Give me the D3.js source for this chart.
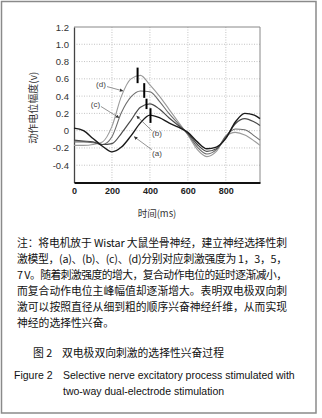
<!DOCTYPE html>
<html><head><meta charset="utf-8">
<script src="https://cdn.jsdelivr.net/npm/d3@7"></script>
<style>
body{margin:0;background:#fff;}
svg{display:block;}
</style></head>
<body>
<script>
// ---- data ----
const times = [0, 50, 100, 150, 200, 250, 300, 350, 400, 450, 500, 550, 600, 650, 700, 750, 800, 850, 900, 950, 980];
const seriesNames = ["(a)", "(b)", "(c)", "(d)"];
const seriesA = [0.03, 0.00, -0.09, -0.18, -0.245, -0.19, -0.06, 0.09, 0.18, 0.15, 0.09, 0.04, -0.02, -0.13, -0.21, -0.19, -0.09, 0.10, 0.20, 0.18, 0.14];
const seriesB = [-0.11, -0.12, -0.13, -0.16, -0.15, -0.03, 0.12, 0.27, 0.31, 0.25, 0.15, 0.06, -0.03, -0.16, -0.24, -0.21, -0.08, 0.08, 0.14, 0.10, 0.06];
const seriesC = [-0.13, -0.13, -0.14, -0.16, -0.07, 0.21, 0.39, 0.46, 0.45, 0.34, 0.20, 0.08, -0.04, -0.19, -0.27, -0.22, -0.06, 0.02, 0.01, -0.06, -0.11];
const seriesD = [-0.17, -0.17, -0.16, -0.13, 0.05, 0.40, 0.60, 0.64, 0.53, 0.40, 0.25, 0.10, -0.05, -0.22, -0.30, -0.24, -0.07, -0.02, -0.05, -0.12, -0.17];
const peakT = [403, 382, 370, 335];
const peakLo = [0.09, 0.25, 0.38, 0.55];
const peakHi = [0.26, 0.37, 0.55, 0.73];
const labelT = [437, 437, 113, 142];
const labelV = [-0.26, -0.035, 0.31, 0.54];
const arrowFromT = [410, 410, 142, 174];
const arrowFromV = [-0.22, 0.0, 0.28, 0.51];
const arrowToT = [317, 330, 237, 258];
const arrowToV = [-0.07, 0.17, 0.15, 0.46];
const yTicks = [1.2, 1.0, 0.8, 0.6, 0.4, 0.2, 0, -0.2, -0.4];
const yTickLabels = ["1.2", "1.0", "0.8", "0.6", "0.4", "0.2", "0", "-0.2", "-0.4"];
const xTicks = [0, 200, 400, 600, 800];
const xTitle = "时间(ms)";
const yTitle = "动作电位幅度(v)";
const noteLines = [
  "注：将电机放于 Wistar 大鼠坐骨神经，建立神经选择性刺",
  "激模型，(a)、(b)、(c)、(d)分别对应刺激强度为 1，3，5，",
  "7 V。随着刺激强度的增大，复合动作电位的延时逐渐减小，",
  "而复合动作电位主峰幅值却逐渐增大。表明双电极双向刺",
  "激可以按照直径从细到粗的顺序兴奋神经纤维，从而实现",
  "神经的选择性兴奋。"
];
const captionCN = ["图 2", "双电极双向刺激的选择性兴奋过程"];
const captionEN = ["Figure 2", "Selective nerve excitatory process stimulated with", "two-way dual-electrode stimulation"];

// ---- drawing ----
const W = 322, H = 418;
const svg = d3.select("body").append("svg").attr("width", W).attr("height", H);
const allSeries = [seriesA, seriesB, seriesC, seriesD];
const colors = ["#1a1a1a", "#4a4a4a", "#6e6e6e", "#9a9a9a"];
const widths = [1.4, 1.2, 1.1, 1.1];

svg.append("rect").attr("x", 1.5).attr("y", 1.5).attr("width", 314.5).attr("height", 411.5)
  .attr("fill", "none").attr("stroke", "#8a8a8a").attr("stroke-width", 1.5);

const x = d3.scaleLinear().domain([0, 980]).range([74, 260]);
const y = d3.scaleLinear().domain([-0.6, 1.2]).range([182.5, 27]);

// grid
const g = svg.append("g");
g.selectAll("line.hg").data(yTicks.filter(v => v < 1.2)).join("line")
  .attr("x1", x(0)).attr("x2", x(980)).attr("y1", d => y(d)).attr("y2", d => y(d))
  .attr("stroke", "#b5b5b5").attr("stroke-width", 0.8).attr("stroke-dasharray", "1,1.5");
g.append("line").attr("x1", x(0)).attr("x2", x(980)).attr("y1", y(-0.4)-0).attr("y2", y(-0.4))
  .attr("stroke","none");
g.selectAll("line.vg").data(xTicks.filter(t => t > 0)).join("line")
  .attr("x1", d => x(d)).attr("x2", d => x(d)).attr("y1", y(1.2)).attr("y2", y(-0.6))
  .attr("stroke", "#b5b5b5").attr("stroke-width", 0.8).attr("stroke-dasharray", "1,1.5");

// frame
svg.append("line").attr("x1", x(0)).attr("x2", x(980)).attr("y1", y(1.2)).attr("y2", y(1.2)).attr("stroke", "#888").attr("stroke-width", 1);
svg.append("line").attr("x1", x(980)).attr("x2", x(980)).attr("y1", y(1.2)).attr("y2", y(-0.6)).attr("stroke", "#888").attr("stroke-width", 1);

// axes
const yAxis = d3.axisLeft(y).tickValues(yTicks).tickSize(0).tickPadding(5)
  .tickFormat((d, i) => yTickLabels[i]);
const ya = svg.append("g").attr("transform", `translate(${x(0)},0)`).call(yAxis);
ya.select(".domain").attr("stroke", "#444").attr("stroke-width", 1.3);
ya.selectAll("text").attr("font-family", "Liberation Sans, Arial, sans-serif").attr("font-size", 9.5).attr("fill", "#333");

const xAxis = d3.axisBottom(x).tickValues(xTicks).tickSize(0).tickPadding(5);
const xa = svg.append("g").attr("transform", `translate(0,${y(-0.6)})`).call(xAxis);
xa.select(".domain").attr("stroke", "#111").attr("stroke-width", 2);
xa.selectAll("text").attr("font-family", "Liberation Sans, Arial, sans-serif").attr("font-size", 9).attr("font-weight", "bold").attr("fill", "#222");

// lines
const line = d3.line().x((d, i) => x(times[i])).y(d => y(d)).curve(d3.curveMonotoneX);
svg.selectAll("path.series").data(allSeries.slice().reverse()).join("path")
  .attr("class", "series")
  .attr("d", d => line(d))
  .attr("fill", "none")
  .attr("stroke", (d, i) => colors[3 - i])
  .attr("stroke-width", (d, i) => widths[3 - i]);

// peak bars
svg.selectAll("line.peak").data(peakT).join("line")
  .attr("x1", d => x(d)).attr("x2", d => x(d))
  .attr("y1", (d, i) => y(peakLo[i])).attr("y2", (d, i) => y(peakHi[i]))
  .attr("stroke", "#000").attr("stroke-width", 2);

// arrows + labels
svg.append("defs").append("marker").attr("id", "ah").attr("viewBox", "0 0 6 6")
  .attr("refX", 5.5).attr("refY", 3).attr("markerWidth", 5).attr("markerHeight", 5)
  .attr("orient", "auto")
  .append("path").attr("d", "M0,0 L6,3 L0,6 Z").attr("fill", "#333");
svg.selectAll("line.arrow").data(arrowFromT).join("line")
  .attr("x1", d => x(d)).attr("y1", (d, i) => y(arrowFromV[i]))
  .attr("x2", (d, i) => x(arrowToT[i])).attr("y2", (d, i) => y(arrowToV[i]))
  .attr("stroke", "#666").attr("stroke-width", 0.7).attr("marker-end", "url(#ah)");
svg.selectAll("text.lab").data(seriesNames).join("text")
  .attr("x", (d, i) => x(labelT[i])).attr("y", (d, i) => y(labelV[i]))
  .attr("dy", "0.35em").attr("text-anchor", "middle")
  .attr("font-family", "Liberation Sans, Arial, sans-serif").attr("font-size", 8).attr("fill", "#444")
  .text(d => d);

// titles
svg.append("text").attr("transform", `translate(37,${(y(1.2)+y(-0.6))/2 + 3}) rotate(-90)`)
  .attr("text-anchor", "middle").attr("font-family", "Noto Sans CJK SC, sans-serif").attr("font-size", 10).attr("fill", "#333")
  .text(yTitle);
svg.append("text").attr("x", 157).attr("y", 217).attr("text-anchor", "middle")
  .attr("font-family", "Noto Sans CJK SC, sans-serif").attr("font-size", 9.5).attr("fill", "#333")
  .text(xTitle);

// notes
const noteY0 = 247, noteDy = 16;
svg.selectAll("text.note").data(noteLines).join("text")
  .attr("x", 17).attr("y", (d, i) => noteY0 + i * noteDy)
  .attr("font-family", "Noto Sans CJK SC, sans-serif").attr("font-size", 10.8).attr("fill", "#111")
  .each(function(d, i) { if (i < noteLines.length - 1) d3.select(this).attr("textLength", 270).attr("lengthAdjust", "spacing"); })
  .text(d => d);

// captions
svg.append("text").attr("x", 33).attr("y", 357).attr("font-family", "Noto Sans CJK SC, sans-serif").attr("font-size", 10.8).attr("fill", "#111").text(captionCN[0]);
svg.append("text").attr("x", 62).attr("y", 357).attr("font-family", "Noto Sans CJK SC, sans-serif").attr("font-size", 10.8).attr("fill", "#111").text(captionCN[1]);
svg.append("text").attr("x", 14).attr("y", 379).attr("font-family", "Liberation Sans, Arial, sans-serif").attr("font-size", 10.5).attr("fill", "#111").text(captionEN[0]);
svg.append("text").attr("x", 63).attr("y", 379).attr("font-family", "Liberation Sans, Arial, sans-serif").attr("font-size", 10.5).attr("fill", "#111").text(captionEN[1]);
svg.append("text").attr("x", 63).attr("y", 395).attr("font-family", "Liberation Sans, Arial, sans-serif").attr("font-size", 10.5).attr("fill", "#111").text(captionEN[2]);
</script>
</body></html>
